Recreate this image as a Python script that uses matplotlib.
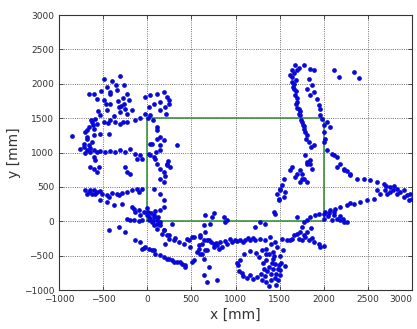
import numpy as np
import matplotlib as mpl
mpl.use('Agg')
import matplotlib.pyplot as plt

# reference path (green rectangle), in mm
rect_x = [0, 2000, 2000, 0, 0]
rect_y = [0, 0, 1500, 1500, 0]

top_left = [
    (-306, 2109), (-400, 2041), (-495, 2075), (-268, 1978), (-230, 1857),
    (-344, 1905), (-419, 1881), (-457, 1953), (-608, 1857), (-665, 1857),
    (-570, 1785), (-495, 1760), (-419, 1712), (-325, 1663), (-268, 1712),
    (-212, 1760), (-174, 1615), (-230, 1567), (-306, 1590), (-457, 1615),
    (-533, 1542), (-589, 1494), (-627, 1445), (-665, 1372), (-703, 1300),
    (-570, 1421), (-495, 1445), (-419, 1469), (-363, 1445), (-306, 1421),
    (-230, 1445), (-136, 1479), (-79, 1508), (-608, 1251), (-684, 1226),
    (-533, 1276), (-438, 1276), (-853, 1236), (-380, 1530), (-270, 1790),
    (-350, 1980), (-520, 1900), (-640, 1470), (-600, 1350), (-560, 1600),
    (-420, 1850), (-250, 1640), (-330, 1750), (-620, 1400), (-680, 1330),
    (-440, 1430), (-280, 1440), (-300, 1680), (-470, 1700),
]
near_origin_top = [
    (-23, 1808), (34, 1833), (110, 1857), (185, 1881), (223, 1808),
    (147, 1735), (71, 1712), (15, 1663), (-23, 1567), (34, 1542),
    (147, 1615), (204, 1663), (242, 1712), (110, 1324), (147, 1226),
    (336, 1105), (110, 1372), (185, 1178), (147, 1033), (71, 935),
    (223, 839), (261, 790), (34, 1130), (15, 985), (10, 1500),
    (60, 1480), (210, 1560), (250, 1760), (110, 1203), (147, 1105),
    (53, 1130), (34, 960), (91, 912), (110, 839), (147, 766),
    (185, 718), (223, 815), (147, 621), (185, 572), (71, 475),
    (147, 403), (185, 305), (200, 660), (240, 880), (100, 1010),
]
band_1000 = [
    (-759, 1057), (-721, 1081), (-684, 1033), (-646, 1008), (-608, 1033),
    (-570, 1008), (-533, 1018), (-476, 1008), (-419, 1018), (-363, 1008),
    (-306, 1033), (-249, 1008), (-193, 1047), (-136, 985), (-79, 960),
    (-60, 912), (-117, 912), (-684, 1203), (-627, 1154), (-665, 1105),
    (-700, 1000), (-650, 1060), (-720, 1130), (-608, 935), (-589, 887),
    (-646, 790), (-608, 766), (-570, 718), (-551, 790), (-249, 790),
    (-230, 718), (-193, 694),
]
band_400 = [
    (-703, 451), (-665, 426), (-627, 403), (-608, 451), (-570, 426),
    (-514, 403), (-457, 388), (-400, 417), (-344, 403), (-287, 417),
    (-230, 426), (-174, 451), (-117, 475), (-60, 475), (-680, 400),
    (-650, 460), (-590, 390), (-540, 440), (-430, 360), (-320, 380),
    (-533, 305), (-457, 281), (-382, 233), (-287, 257), (-174, 208),
    (-136, 135), (-90, 420),
]
origin_cluster = [
    (-155, 185), (-98, 160), (-42, 135), (-79, 87), (-4, 87), (34, 39),
    (71, 63), (110, 15), (15, 15), (53, -10), (147, -10), (-230, 39),
    (-193, 15), (-155, 15), (-98, 0), (-60, 15), (40, 120), (90, 150),
    (0, 200), (60, 0), (120, 60), (20, 60), (185, 208), (147, 160),
    (-438, -131), (-325, -83), (-249, -155), (80, 90), (10, 130),
]
diag_down = [
    (147, -58), (185, -131), (223, -204), (242, -252), (110, -107),
    (71, -58), (110, -34), (185, -131), (242, -204), (298, -276),
    (355, -301), (412, -325), (468, -276), (506, -228), (280, -34),
    (204, -325), (320, -250), (170, -180),
]
lower_band = [
    (-136, -276), (-79, -301), (-60, -397), (-23, -373), (15, -397),
    (53, -421), (91, -470), (147, -494), (185, -518), (223, -543),
    (-42, -383), (71, -421), (280, -567), (336, -592), (393, -616),
    (430, -665), (242, -543), (298, -592), (374, -592), (430, -640),
    (525, -567), (506, -592), (638, -785), (676, -882), (695, -665),
    (789, -858),
]
mid_curve = [
    (638, -58), (600, -228), (620, -325), (581, -397), (600, -470),
    (657, -421), (695, -276), (657, 87), (751, 121), (733, 63),
    (865, 63), (903, 15), (714, -34), (657, -155), (600, -204),
    (638, -276), (581, -349), (563, -446), (619, -470), (638, -543),
    (676, -421), (525, -228), (450, -252), (487, -373), (884, -10),
]
band_300 = [
    (751, -325), (789, -349), (846, -373), (827, -301), (903, -325),
    (940, -252), (997, -266), (1054, -266), (1110, -270), (1167, -276),
    (1224, -276), (1280, -252), (1337, -276), (1394, -228), (1450, -301),
    (676, -276), (720, -300), (780, -310), (880, -290), (960, -300),
    (751, -373), (808, -397), (1224, -83), (1280, -10), (1337, -34),
    (1020, -290), (1080, -300), (1140, -250), (1200, -240),
]
loop_low = [
    (1167, -430), (1100, -480), (1050, -560), (1030, -640), (1040, -720),
    (1090, -790), (1167, -785), (1243, -810), (1200, -840), (1130, -820),
    (1290, -760), (1320, -690), (1310, -600), (1270, -520), (1230, -460),
    (1016, -600), (1073, -750), (1300, -860), (1350, -880), (1400, -850),
    (1350, -400), (1380, -480), (1420, -550), (1450, -620), (1480, -700),
    (1500, -780), (1450, -820), (1400, -760), (1380, -660), (1430, -450),
    (1470, -380), (1500, -500), (1520, -600), (1350, -560), (1420, -700),
    (1480, -860), (1330, -790), (1300, -420), (1400, -330), (1507, -713),
    (1540, -420), (1560, -650), (1460, -920), (1380, -940), (1360, -720),
    (1440, -500), (1490, -640), (1410, -610), (1340, -480), (1460, -760),
]
band_right_low = [
    (1526, -252), (1583, -276), (1639, -252), (1715, -252), (1772, -204),
    (1828, -276), (1885, -301), (1942, -325), (1999, -364), (1753, -276),
    (1810, -155), (1753, -83), (1772, -10), (1810, 15), (1847, 63),
    (1904, 87), (1942, 112), (1999, 112), (1734, -155), (1620, -276),
    (1660, -200), (1700, 58), (1790, -230), (1870, -240), (1960, -380),
    (1700, -180), (1850, -100),
]
blob_2000 = [
    (2017, 135), (2074, 160), (2111, 87), (2150, 39), (2187, 15),
    (2225, -10), (2263, -10), (2092, 15), (2050, 80), (2130, 185),
    (2000, 40), (2060, 120), (2180, 80), (2220, 40), (2120, 130),
]
band_right = [
    (2187, 208), (2263, 233), (2338, 257), (2414, 281), (2490, 305),
    (2565, 330), (2640, 403), (2697, 451), (2753, 426), (2829, 403),
    (2905, 354), (2962, 305), (2980, 403), (2150, 790), (2225, 742),
    (2300, 669), (2376, 621), (2451, 621), (2527, 596), (2603, 572),
    (2678, 548), (2753, 499), (2829, 475), (2905, 451), (2999, 330),
    (2700, 520), (2780, 460), (2860, 420), (2940, 380), (2720, 400),
    (2800, 520), (2600, 450), (2300, 260),
]
inner_right = [
    (1488, 330), (1545, 354), (1507, 451), (1564, 426), (1526, 523),
    (1450, 112), (1620, 742), (1696, 693), (1753, 621), (1810, 572),
    (1734, 742), (1810, 863), (1847, 839), (1639, 790), (1753, 694),
    (1772, 621), (1734, 572), (1677, 645), (1545, 621), (1507, 475),
    (1470, 403), (1488, 305), (1431, 135), (1790, 960), (1847, 887),
    (1810, 839), (1866, 766),
]
right_column = [
    (1885, 1105), (1999, 1154), (2036, 1033), (2093, 985), (2150, 935),
    (2187, 839), (2225, 766), (2300, 694), (2260, 730), (2120, 960),
    (1677, 2269), (1772, 2269), (1847, 2221), (1885, 2196), (1639, 2196),
    (1620, 2124), (1639, 2026), (1658, 1930), (1677, 1833), (1696, 1735),
    (1715, 1639), (1734, 1542), (1753, 1445), (1772, 1348), (1810, 1251),
    (1828, 1154), (1640, 2100), (1660, 2000), (1680, 1900), (1700, 1800),
    (1700, 1650), (1720, 1560), (1760, 1400), (1790, 1300), (1800, 1200),
    (1720, 2230), (1660, 2160), (1690, 2050), (1740, 1480), (1780, 1380),
    (1828, 2075), (1866, 1978), (1885, 1881), (1923, 1785), (1942, 1687),
    (1961, 1639), (1847, 1833), (1810, 1930), (2111, 2196), (2168, 2099),
    (2394, 2090), (2338, 2172), (1979, 1494), (2036, 1445), (2074, 1372),
    (1999, 1300), (2017, 1203), (2000, 1400), (1960, 1540), (1850, 1080),
    (1700, 2200), (1650, 1960), (1690, 1700), (1730, 1600),
]

groups = [top_left, near_origin_top, band_1000, band_400, origin_cluster,
          diag_down, lower_band, mid_curve, band_300, loop_low,
          band_right_low, blob_2000, band_right, inner_right, right_column]
pts = np.array([p for g in groups for p in g], dtype=float)

fig = plt.figure(figsize=(4.17, 3.29), dpi=100)
ax = fig.add_axes([0.1415, 0.1185, 0.8465, 0.8355])

ax.plot(pts[:, 0], pts[:, 1], 'o', color='#0808d8', markersize=3.4,
        markeredgewidth=0, zorder=3)
ax.plot(rect_x, rect_y, color='#2e8b2e', linewidth=1.1, zorder=2)

ax.set_xlim(-1000, 3000)
ax.set_ylim(-1000, 3000)
ticks = np.arange(-1000, 3001, 500)
ax.set_xticks(ticks)
ax.set_yticks(ticks)
ax.grid(True, linestyle=':', color='#444444', linewidth=0.6)
ax.tick_params(direction='in', top=True, right=True, length=3,
               labelsize=6.5, colors='#333333', width=0.6)
for lab in ax.get_xticklabels() + ax.get_yticklabels():
    lab.set_family(['Liberation Sans Narrow', 'DejaVu Sans'])
# keep the last x label inside the figure
ax.get_xticklabels()[-1].set_horizontalalignment('right')
for s in ax.spines.values():
    s.set_linewidth(0.8)
    s.set_color('#333333')

ax.set_xlabel('x [mm]', fontsize=10, color='#333333', labelpad=3)
ax.set_ylabel('y [mm]', fontsize=10, color='#333333', labelpad=2)

fig.savefig('out.png', dpi=100)
